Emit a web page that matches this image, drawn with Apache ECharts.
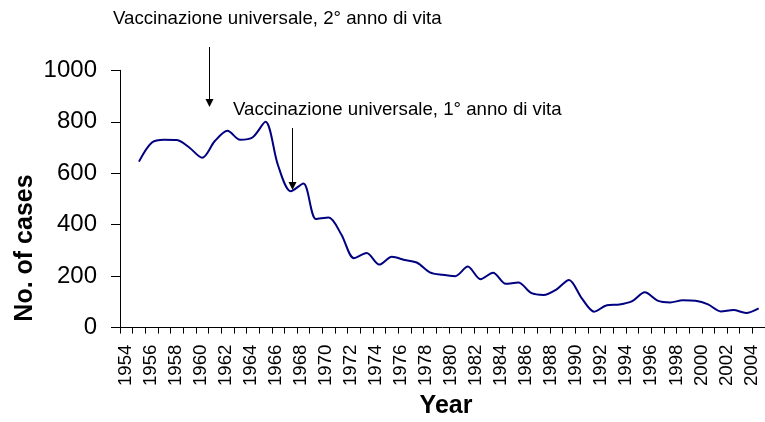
<!DOCTYPE html>
<html><head><meta charset="utf-8">
<script src="https://cdn.jsdelivr.net/npm/echarts@6/dist/echarts.min.js"></script>
<style>html,body{margin:0;padding:0;background:#fff}#c{width:765px;height:422px}</style>
</head><body><div id="c"></div>
<script>
const years = ['1954','1955','1956','1957','1958','1959','1960','1961','1962','1963','1964','1965','1966','1967','1968','1969','1970','1971','1972','1973','1974','1975','1976','1977','1978','1979','1980','1981','1982','1983','1984','1985','1986','1987','1988','1989','1990','1991','1992','1993','1994','1995','1996','1997','1998','1999','2000','2001','2002','2003','2004'];
const cases = [null,645,718,730,729,699,660,725,765,730,740,800,630,530,560,422,428,362,270,290,245,275,263,252,215,205,200,237,188,213,170,175,135,127,148,185,115,62,87,90,103,137,105,98,106,104,90,63,68,57,75];
const yTicks = {min:0, max:1000, interval:200};
const yTitle = 'No. of cases';
const xTitle = 'Year';
const note1 = 'Vaccinazione universale, 2° anno di vita';
const note2 = 'Vaccinazione universale, 1° anno di vita';

const FONT = '"Liberation Sans", Arial, sans-serif';
const chart = echarts.init(document.getElementById('c'), null, {renderer:'canvas'});
chart.setOption({
  animation:false,
  backgroundColor:'#fff',
  grid:[
    {left:120, top:70.3, width:645, height:257.3, containLabel:false, outerBoundsMode:'none'},
    {left:119.24, top:70.3, width:638.5, height:257.3, containLabel:false, outerBoundsMode:'none'}
  ],
  xAxis:[
    {type:'category', gridIndex:0, data:years, boundaryGap:true,
     axisLine:{lineStyle:{color:'#000', width:1}},
     axisTick:{show:true, interval:0, length:6, lineStyle:{color:'#000'}},
     axisLabel:{show:false}},
    {type:'category', gridIndex:1, data:years, boundaryGap:true,
     axisLine:{show:false}, axisTick:{show:false},
     axisLabel:{show:true, interval:1, rotate:90, margin:17, fontFamily:FONT, fontSize:18.67, color:'#000'}}
  ],
  yAxis:[
    {type:'value', gridIndex:0, min:yTicks.min, max:yTicks.max, interval:yTicks.interval,
     splitLine:{show:false},
     axisLine:{show:true, lineStyle:{color:'#000', width:1}},
     axisTick:{show:true, length:9, lineStyle:{color:'#000'}},
     axisLabel:{margin:23, fontFamily:FONT, fontSize:24, color:'#000', formatter:function(v){return String(v);}}},
    {type:'value', gridIndex:1, min:0, max:1000, show:false}
  ],
  series:[
    {type:'line', xAxisIndex:0, yAxisIndex:0, data:cases, smooth:0.3, symbol:'none',
     connectNulls:false, lineStyle:{color:'#000080', width:2}}
  ],
  graphic:[
    {type:'text', x:25, y:248, rotation:Math.PI/2,
     style:{text:yTitle, x:0, y:0, font:'bold 25px ' + FONT, fill:'#000', align:'center', verticalAlign:'middle'}},
    {type:'text', x:446, y:406,
     style:{text:xTitle, x:0, y:0, font:'bold 25px ' + FONT, fill:'#000', align:'center', verticalAlign:'middle'}},
    {type:'text', style:{text:note1, x:113, y:19, font:'18.67px ' + FONT, fill:'#000', verticalAlign:'middle'}},
    {type:'text', style:{text:note2, x:233, y:110, font:'18.67px ' + FONT, fill:'#000', verticalAlign:'middle'}},
    {type:'line', shape:{x1:209.5, y1:47, x2:209.5, y2:100}, style:{stroke:'#000', lineWidth:1}},
    {type:'polygon', shape:{points:[[205.5,99],[213.5,99],[209.5,107]]}, style:{fill:'#000'}},
    {type:'line', shape:{x1:292.5, y1:128, x2:292.5, y2:183}, style:{stroke:'#000', lineWidth:1}},
    {type:'polygon', shape:{points:[[288.5,182],[296.5,182],[292.5,190]]}, style:{fill:'#000'}}
  ]
});
</script></body></html>
